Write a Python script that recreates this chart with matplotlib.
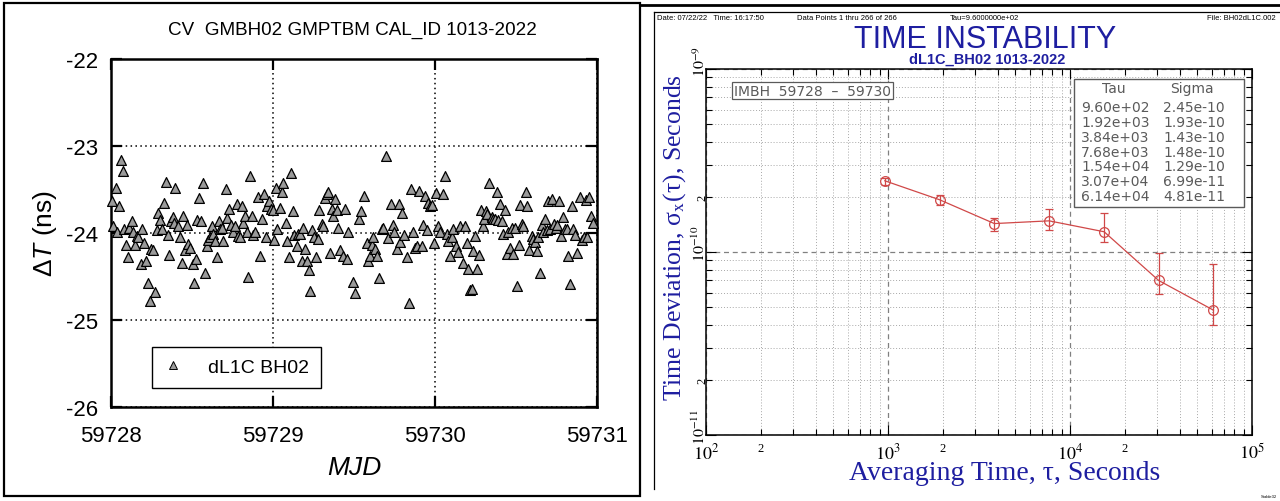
import matplotlib
matplotlib.use("Agg")
import matplotlib.pyplot as plt
from matplotlib.lines import Line2D
from matplotlib.patches import Rectangle
from matplotlib.ticker import LogLocator, FuncFormatter
from matplotlib.transforms import offset_copy
import numpy as np

plt.rcParams['mathtext.fontset'] = 'stix'
plt.rcParams['mathtext.rm'] = 'Liberation Sans'
plt.rcParams['mathtext.it'] = 'Liberation Sans:italic'
plt.rcParams['mathtext.bf'] = 'Liberation Sans:bold'

# ---------------- data: left panel (common-view differences) ----------------
mjd_start = 59728
mjd_days = [
    0.004, 0.014, 0.029, 0.039, 0.051, 0.060, 0.072, 0.080, 0.093, 0.105,
    0.113, 0.128, 0.138, 0.148, 0.163, 0.169, 0.183, 0.193, 0.204, 0.216,
    0.226, 0.241, 0.245, 0.257, 0.272, 0.282, 0.292, 0.302, 0.313, 0.327,
    0.337, 0.350, 0.360, 0.370, 0.381, 0.389, 0.395, 0.412, 0.426, 0.436,
    0.447, 0.457, 0.467, 0.477, 0.488, 0.504, 0.514, 0.525, 0.533, 0.545,
    0.553, 0.570, 0.580, 0.591, 0.601, 0.611, 0.621, 0.632, 0.642, 0.656,
    0.665, 0.673, 0.683, 0.693, 0.710, 0.718, 0.728, 0.739, 0.751, 0.765,
    0.776, 0.786, 0.796, 0.807, 0.817, 0.827, 0.837, 0.848, 0.858, 0.868,
    0.879, 0.889, 0.909, 0.920, 0.934, 0.944, 0.955, 0.961, 0.975, 0.986,
    0.998, 1.006, 1.016, 1.027, 1.043, 1.053, 1.064, 1.078, 1.088, 1.099,
    1.111, 1.121, 1.130, 1.146, 1.156, 1.167, 1.177, 1.187, 1.198, 1.208,
    1.222, 1.228, 1.243, 1.253, 1.265, 1.280, 1.286, 1.300, 1.311, 1.321,
    1.331, 1.342, 1.352, 1.362, 1.372, 1.383, 1.393, 1.403, 1.414, 1.430,
    1.444, 1.455, 1.465,
    1.496, 1.506, 1.533, 1.541, 1.564, 1.578, 1.588, 1.599, 1.609, 1.619,
    1.630, 1.640, 1.654, 1.671, 1.681, 1.698, 1.712, 1.726, 1.739, 1.747,
    1.763, 1.776, 1.784, 1.794, 1.809, 1.825, 1.840, 1.850, 1.862, 1.877,
    1.887, 1.903, 1.918, 1.928, 1.938, 1.949, 1.959, 1.969, 1.981, 1.994,
    2.006, 2.021, 2.031, 2.051, 2.060, 2.072, 2.082, 2.093, 2.103, 2.113,
    2.130, 2.144, 2.154, 2.171, 2.185, 2.195, 2.206, 2.216, 2.226, 2.237,
    2.249, 2.257, 2.274, 2.282, 2.294, 2.302, 2.315, 2.323, 2.335, 2.350,
    2.360, 2.370, 2.381, 2.391, 2.401, 2.412, 2.422, 2.432, 2.442, 2.453,
    2.463, 2.473, 2.484, 2.494, 2.504, 2.519, 2.525, 2.535, 2.545, 2.560,
    2.570, 2.580, 2.597, 2.607, 2.617, 2.628, 2.638, 2.648, 2.658, 2.669,
    2.679, 2.689, 2.700, 2.710, 2.720, 2.735, 2.747, 2.755, 2.767, 2.778,
    2.792, 2.802, 2.813, 2.823, 2.833, 2.846, 2.854, 2.866, 2.877, 2.895,
    2.907, 2.918, 2.930, 2.940, 2.951, 2.963, 2.975,
]
delta_t_ns = [
    -23.63, -23.92, -23.48, -23.99, -23.69, -23.16, -23.29, -23.95, -24.14, -24.28,
    -23.94, -23.86, -23.99, -24.14, -24.03, -24.05, -24.36, -23.95, -24.12, -24.32,
    -24.58, -24.78, -24.18, -24.20, -24.68, -23.97, -23.77, -23.85, -23.95, -23.65,
    -23.41, -24.02, -24.25, -23.86, -23.82, -23.89, -23.48, -23.92, -24.05, -24.34,
    -23.81, -24.19, -23.91, -24.13, -24.17, -24.36, -24.57, -24.30, -23.85, -23.60,
    -23.86, -23.43, -24.46, -24.15, -24.08, -24.05, -23.92, -24.01, -24.09, -24.28,
    -23.86, -23.95, -23.94, -24.09, -23.49, -23.83, -23.72, -23.91, -23.99, -23.92,
    -23.67, -24.03, -24.05, -23.69, -23.88, -23.81, -23.99, -24.51, -23.34, -23.81,
    -24.02, -23.99, -23.59, -24.26, -23.84, -23.55, -24.05, -23.69, -23.63, -23.72,
    -23.73, -24.08, -23.48, -23.95, -23.71, -23.53, -23.42, -23.89, -24.09, -24.28,
    -23.31, -23.75, -24.02, -24.15, -24.01, -24.01, -24.32, -23.94, -24.18, -24.32,
    -24.42, -24.67, -23.97, -24.05, -24.28, -24.07, -23.73, -23.90, -23.92, -23.60,
    -23.55, -23.53, -24.23, -23.72, -23.80, -23.61, -23.74, -23.94, -24.19, -24.26,
    -23.72, -24.30, -23.99,
    -24.56, -24.69, -23.84, -23.75, -23.58, -24.12, -24.32, -24.26, -24.14, -24.05,
    -24.18, -24.26, -24.52, -23.95, -23.94, -23.12, -24.06, -23.67, -23.91, -23.99,
    -24.18, -23.67, -24.10, -23.77, -24.02, -24.28, -24.80, -23.49, -23.99, -24.17,
    -24.15, -23.52, -24.15, -23.91, -23.57, -23.97, -23.66, -23.69, -23.68, -24.11,
    -23.54, -23.92, -23.99, -23.55, -23.34, -24.01, -24.09, -24.26, -24.05, -23.95,
    -24.15, -24.22, -23.92, -24.35, -23.92, -24.11, -24.41, -24.66, -24.64, -24.21,
    -24.03, -24.41, -24.25, -23.73, -23.92, -23.84, -23.75, -23.78, -23.43, -23.82,
    -23.84, -23.84, -23.53, -23.85, -23.67, -23.86, -24.01, -23.73, -24.24, -23.99,
    -24.17, -23.94, -24.24, -23.94, -24.61, -24.14, -23.68, -23.90, -23.92, -23.53,
    -23.69, -24.20, -24.03, -24.07, -24.10, -24.21, -24.05, -24.46, -23.91, -23.99,
    -23.84, -23.97, -23.63, -23.95, -23.61, -23.90, -23.94, -23.91, -23.63, -24.04,
    -23.82, -23.95, -23.95, -24.27, -24.59, -23.69, -23.95, -24.02, -24.23, -23.59,
    -24.08, -24.05, -23.62, -24.05, -23.59, -23.80, -23.88,
]
left_xticks = [59728, 59729, 59730, 59731]
left_xticklabels = ['59728', '59729', '59730', '59731']
left_yticks = [-26, -25, -24, -23, -22]
left_yticklabels = ['-26', '-25', '-24', '-23', '-22']
left_title = 'CV  GMBH02 GMPTBM CAL_ID 1013-2022'
legend_label = 'dL1C BH02'

# ---------------- data: right panel (time deviation) ----------------
tau_s = [9.60e+02, 1.92e+03, 3.84e+03, 7.68e+03, 1.54e+04, 3.07e+04, 6.14e+04]
sigma_x = [2.45e-10, 1.93e-10, 1.43e-10, 1.48e-10, 1.29e-10, 6.99e-11, 4.81e-11]
sigma_lo = [2.32e-10, 1.81e-10, 1.31e-10, 1.32e-10, 1.13e-10, 5.91e-11, 4.01e-11]
sigma_hi = [2.53e-10, 2.05e-10, 1.54e-10, 1.72e-10, 1.63e-10, 9.87e-11, 8.60e-11]

# ---------------- figure ----------------
fig = plt.figure(figsize=(12.8, 5.02), dpi=100)
W, H = 1280.0, 502.0

def fx(px):
    return px / W

def fy(py):
    return 1 - py / H

# panel borders
fig.add_artist(Rectangle((fx(4), fy(497)), fx(636), 493 / H, transform=fig.transFigure,
                         fill=False, edgecolor='black', linewidth=1.6))
fig.add_artist(Line2D([fx(640), fx(1280)], [fy(6), fy(6)], transform=fig.transFigure,
                      color='black', linewidth=2.0))
fig.add_artist(Line2D([fx(654), fx(654)], [fy(13), fy(490)], transform=fig.transFigure,
                      color='black', linewidth=0.9))
fig.add_artist(Line2D([fx(654), fx(1280)], [fy(13), fy(13)], transform=fig.transFigure,
                      color='black', linewidth=0.9))

# ---------------- left panel ----------------
axL = fig.add_axes([fx(111), fy(408), 486 / W, 348 / H])
mjd = [mjd_start + d for d in mjd_days]
axL.scatter(mjd, delta_t_ns, marker='^', s=50, facecolor='#9a9a9a', edgecolor='black',
            linewidth=0.9, zorder=3, clip_on=False)
axL.set_xlim(59728, 59731)
axL.set_ylim(-26, -22)
axL.set_xticks(left_xticks, left_xticklabels)
axL.set_yticks(left_yticks, left_yticklabels)
axL.grid(True, which='major', color='black', linestyle=(0, (1, 2.2)), linewidth=1.1)
axL.tick_params(direction='in', length=8, width=1.6, top=True, right=True,
                labelsize=16, pad=9)
axL.tick_params(axis='x', pad=13)
for lab in axL.get_xticklabels() + axL.get_yticklabels():
    lab.set_fontfamily('Liberation Sans')
for sp in axL.spines.values():
    sp.set_linewidth(1.8)
h = Line2D([], [], marker='^', linestyle='none', markersize=5.5, markerfacecolor='#9a9a9a',
           markeredgecolor='black', markeredgewidth=0.7)
leg = axL.legend([h], [legend_label], loc='lower left', bbox_to_anchor=(0.084, 0.055),
                 borderaxespad=0, frameon=True, fancybox=False, edgecolor='black',
                 framealpha=1, prop={'family': 'Liberation Sans', 'size': 14},
                 handlelength=1.0, handletextpad=1.3, borderpad=0.6)
leg.get_frame().set_linewidth(1.0)

fig.text(fx(352), fy(30), left_title, ha='center', va='center', fontsize=13.6,
         family='Liberation Sans')
fig.text(fx(45), fy(234), 'Δ$T$ (ns)', ha='center', va='center', rotation=90,
         fontsize=19, family='Liberation Sans', math_fontfamily='custom')
fig.text(fx(354), fy(468), 'MJD', ha='center', va='center', fontsize=19,
         family='Liberation Sans', style='italic')

# ---------------- right panel ----------------
axR = fig.add_axes([fx(706), fy(436), 546 / W, 366 / H])
red = '#d04848'
yerr = [np.array(sigma_x) - np.array(sigma_lo), np.array(sigma_hi) - np.array(sigma_x)]
axR.errorbar(tau_s, sigma_x, yerr=yerr, fmt='-o', color=red, mfc='none', mec=red,
             ms=7, mew=0.9, lw=0.9, elinewidth=0.9, capsize=3.2, capthick=0.9, zorder=4)
axR.set_xscale('log')
axR.set_yscale('log')
axR.set_xlim(1e2, 1e5)
axR.set_ylim(1e-11, 1e-9)

def dec_fmt(v, p):
    return r'$10^{%d}$' % int(round(np.log10(v)))

def two_fmt(v, p):
    m = v / 10 ** np.floor(np.log10(v) + 1e-9)
    return '2' if abs(m - 2) < 0.01 else ''

for axis in (axR.xaxis, axR.yaxis):
    axis.set_major_locator(LogLocator(base=10, numticks=10))
    axis.set_minor_locator(LogLocator(base=10, subs=np.arange(2, 10), numticks=20))
    axis.set_major_formatter(FuncFormatter(dec_fmt))
    axis.set_minor_formatter(FuncFormatter(two_fmt))

axR.grid(True, which='major', color='#808080', linestyle=(0, (4, 3)), linewidth=0.9)
axR.grid(True, which='minor', color='#a8a8a8', linestyle=(0, (1, 2)), linewidth=0.7)
axR.tick_params(which='both', direction='in', top=True, right=True, width=0.8,
                labelfontfamily='Liberation Serif')
axR.tick_params(which='major', length=7, labelsize=13)
axR.tick_params(which='minor', length=4, labelsize=9)
axR.tick_params(axis='x', which='both', pad=5)
axR.tick_params(axis='y', which='both', labelrotation=90, pad=-2)
axR.tick_params(axis='y', which='major', labelsize=11.5)
for sp in axR.spines.values():
    sp.set_linewidth(1.1)

blue = '#1e1ea0'
fig.text(fx(1005), fy(474), 'Averaging Time, τ, Seconds', ha='center', va='center',
         fontsize=20, color=blue, family='Liberation Serif')
fig.text(fx(675), fy(238), r'Time Deviation, σ$_{\mathrm{x}}$(τ), Seconds', ha='center',
         va='center', rotation=90, fontsize=18.5, color=blue, family='Liberation Serif')

fig.text(fx(985), fy(40), 'TIME INSTABILITY', ha='center', va='center', fontsize=22,
         color=blue, family=['Liberation Sans Narrow', 'Liberation Sans'])
fig.text(fx(987), fy(60), 'dL1C_BH02 1013-2022', ha='center', va='center', fontsize=10.5,
         color=blue, family=['Liberation Sans Narrow', 'Liberation Sans'], weight='bold')

hdr = dict(fontsize=5.5, va='center', family='Liberation Sans')
fig.text(fx(657), fy(19), 'Date: 07/22/22   Time: 16:17:50', ha='left', **hdr)
fig.text(fx(797), fy(19), 'Data Points 1 thru 266 of 266', ha='left', **hdr)
fig.text(fx(950), fy(19), 'Tau=9.6000000e+02', ha='left', **hdr)
fig.text(fx(1276), fy(19), 'File: BH02dL1C.002', ha='right', **hdr)
fig.text(fx(1277), fy(497), 'Stable32', ha='right', va='center', fontsize=3,
         family='Liberation Sans')

# IMBH label box
gray = '#5a5a5a'
axR.text(0.051, 0.941, 'IMBH  59728  \u2013  59730', transform=axR.transAxes, ha='left',
         va='center', fontsize=10, color=gray, family='DejaVu Sans',
         bbox=dict(boxstyle='square,pad=0.12', facecolor='white', edgecolor=gray, lw=0.9),
         zorder=6)

# stats table
axR.add_patch(Rectangle((0.674, 0.623), 0.311, 0.350, transform=axR.transAxes,
                        facecolor='white', edgecolor=gray, linewidth=1.0, zorder=5))
tab = dict(transform=axR.transAxes, fontsize=10, color=gray, family='DejaVu Sans',
           va='center', zorder=6)
axR.text(0.746, 0.948, 'Tau', ha='center', **tab)
axR.text(0.890, 0.948, 'Sigma', ha='center', **tab)
row_y = 0.896
for t, s in zip(tau_s, sigma_x):
    axR.text(0.687, row_y, f'{t:.2e}', ha='left', **tab)
    axR.text(0.837, row_y, f'{s:.2e}', ha='left', **tab)
    row_y -= 0.0405

# align rotated y tick labels of the right panel
fig.canvas.draw()
for lab in axR.yaxis.get_majorticklabels():
    lab.set_verticalalignment('center')
    lab.set_transform(offset_copy(lab.get_transform(), fig=fig, x=0, y=9, units='dots'))
for lab in axR.yaxis.get_minorticklabels():
    lab.set_verticalalignment('center')

fig.savefig('out.png', dpi=100, facecolor='white')
